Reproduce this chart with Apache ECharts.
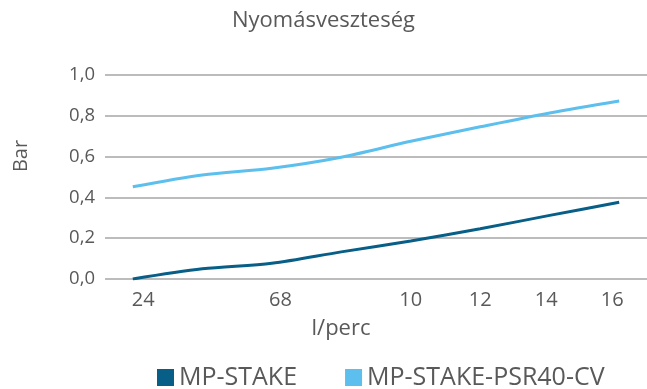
<!DOCTYPE html>
<html>
<head>
<meta charset="utf-8">
<script src="https://cdn.jsdelivr.net/npm/echarts@6/dist/echarts.min.js"></script>
<style>
  html, body { margin: 0; padding: 0; background: #fff; }
  #chart { width: 647px; height: 389px; }
</style>
</head>
<body>
<div id="chart"></div>
<script>
// Flow rate (l/perc) and pressure loss (bar) for the two valve variants
const flow = [2, 4, 6, 8, 10, 12, 14, 16];
const mpStake = [0.0, 0.05, 0.077, 0.133, 0.186, 0.246, 0.312, 0.376];
const mpStakePsr40 = [0.452, 0.51, 0.543, 0.597, 0.675, 0.746, 0.814, 0.873];

// Tick labels printed under the flow axis and the flow values they sit at
const xTickLabels = ['24', '68', '10', '12', '14', '16'];
const xTickValues = [2.3, 6.25, 10, 12, 13.9, 15.8];

const seriesNames = ['MP-STAKE', 'MP-STAKE-PSR40-CV'];
const seriesColors = ['#075e87', '#5cbfee'];

const FONT = 'Open Sans';
const TEXT = '#595959';

const chart = echarts.init(document.getElementById('chart'), null, { renderer: 'canvas' });

const toPairs = ys => flow.map((x, i) => [x, ys[i]]);

chart.setOption({
  animation: false,
  textStyle: { fontFamily: FONT },
  title: {
    text: 'Nyomásveszteség',
    left: 'center',
    top: 5,
    textStyle: { fontFamily: FONT, fontSize: 22, fontWeight: 'normal', color: TEXT }
  },
  legend: {
    left: 152,
    top: 360,
    itemWidth: 17,
    itemHeight: 17,
    itemGap: 48,
    icon: 'rect',
    textStyle: { fontFamily: FONT, fontSize: 25, color: TEXT },
    data: seriesNames
  },
  grid: { left: 105, right: 0, top: 75, bottom: 110, containLabel: false },
  xAxis: {
    type: 'value',
    min: 1.2,
    max: 16.8,
    axisLine: { show: false },
    axisTick: { show: false },
    splitLine: { show: false },
    axisLabel: {
      customValues: xTickValues,
      margin: 11,
      fontFamily: FONT,
      fontSize: 20,
      color: TEXT,
      formatter: v => {
        const i = xTickValues.indexOf(v);
        return i >= 0 ? xTickLabels[i] : '';
      }
    }
  },
  yAxis: {
    type: 'value',
    min: 0,
    max: 1,
    interval: 0.2,
    axisLine: { show: false },
    axisTick: { show: false },
    axisLabel: {
      margin: 10,
      fontFamily: FONT,
      fontSize: 18.5,
      color: TEXT,
      formatter: v => v.toFixed(1).replace('.', ',')
    },
    splitLine: { lineStyle: { color: '#a6a6a6', width: 1.5 } }
  },
  graphic: [
    {
      type: 'text',
      x: 21,
      y: 156,
      rotation: Math.PI / 2,
      style: {
        text: 'Bar',
        font: '20px "Open Sans"',
        fill: TEXT,
        align: 'center',
        verticalAlign: 'middle'
      }
    },
    {
      type: 'text',
      x: 341,
      y: 329,
      style: {
        text: 'l/perc',
        font: '22px "Open Sans"',
        fill: TEXT,
        align: 'center',
        verticalAlign: 'middle'
      }
    }
  ],
  series: [
    {
      name: seriesNames[0],
      type: 'line',
      data: toPairs(mpStake),
      smooth: 0.3,
      showSymbol: false,
      lineStyle: { width: 3, color: seriesColors[0] },
      itemStyle: { color: seriesColors[0] }
    },
    {
      name: seriesNames[1],
      type: 'line',
      data: toPairs(mpStakePsr40),
      smooth: 0.3,
      showSymbol: false,
      lineStyle: { width: 3, color: seriesColors[1] },
      itemStyle: { color: seriesColors[1] }
    }
  ]
});
</script>
</body>
</html>
